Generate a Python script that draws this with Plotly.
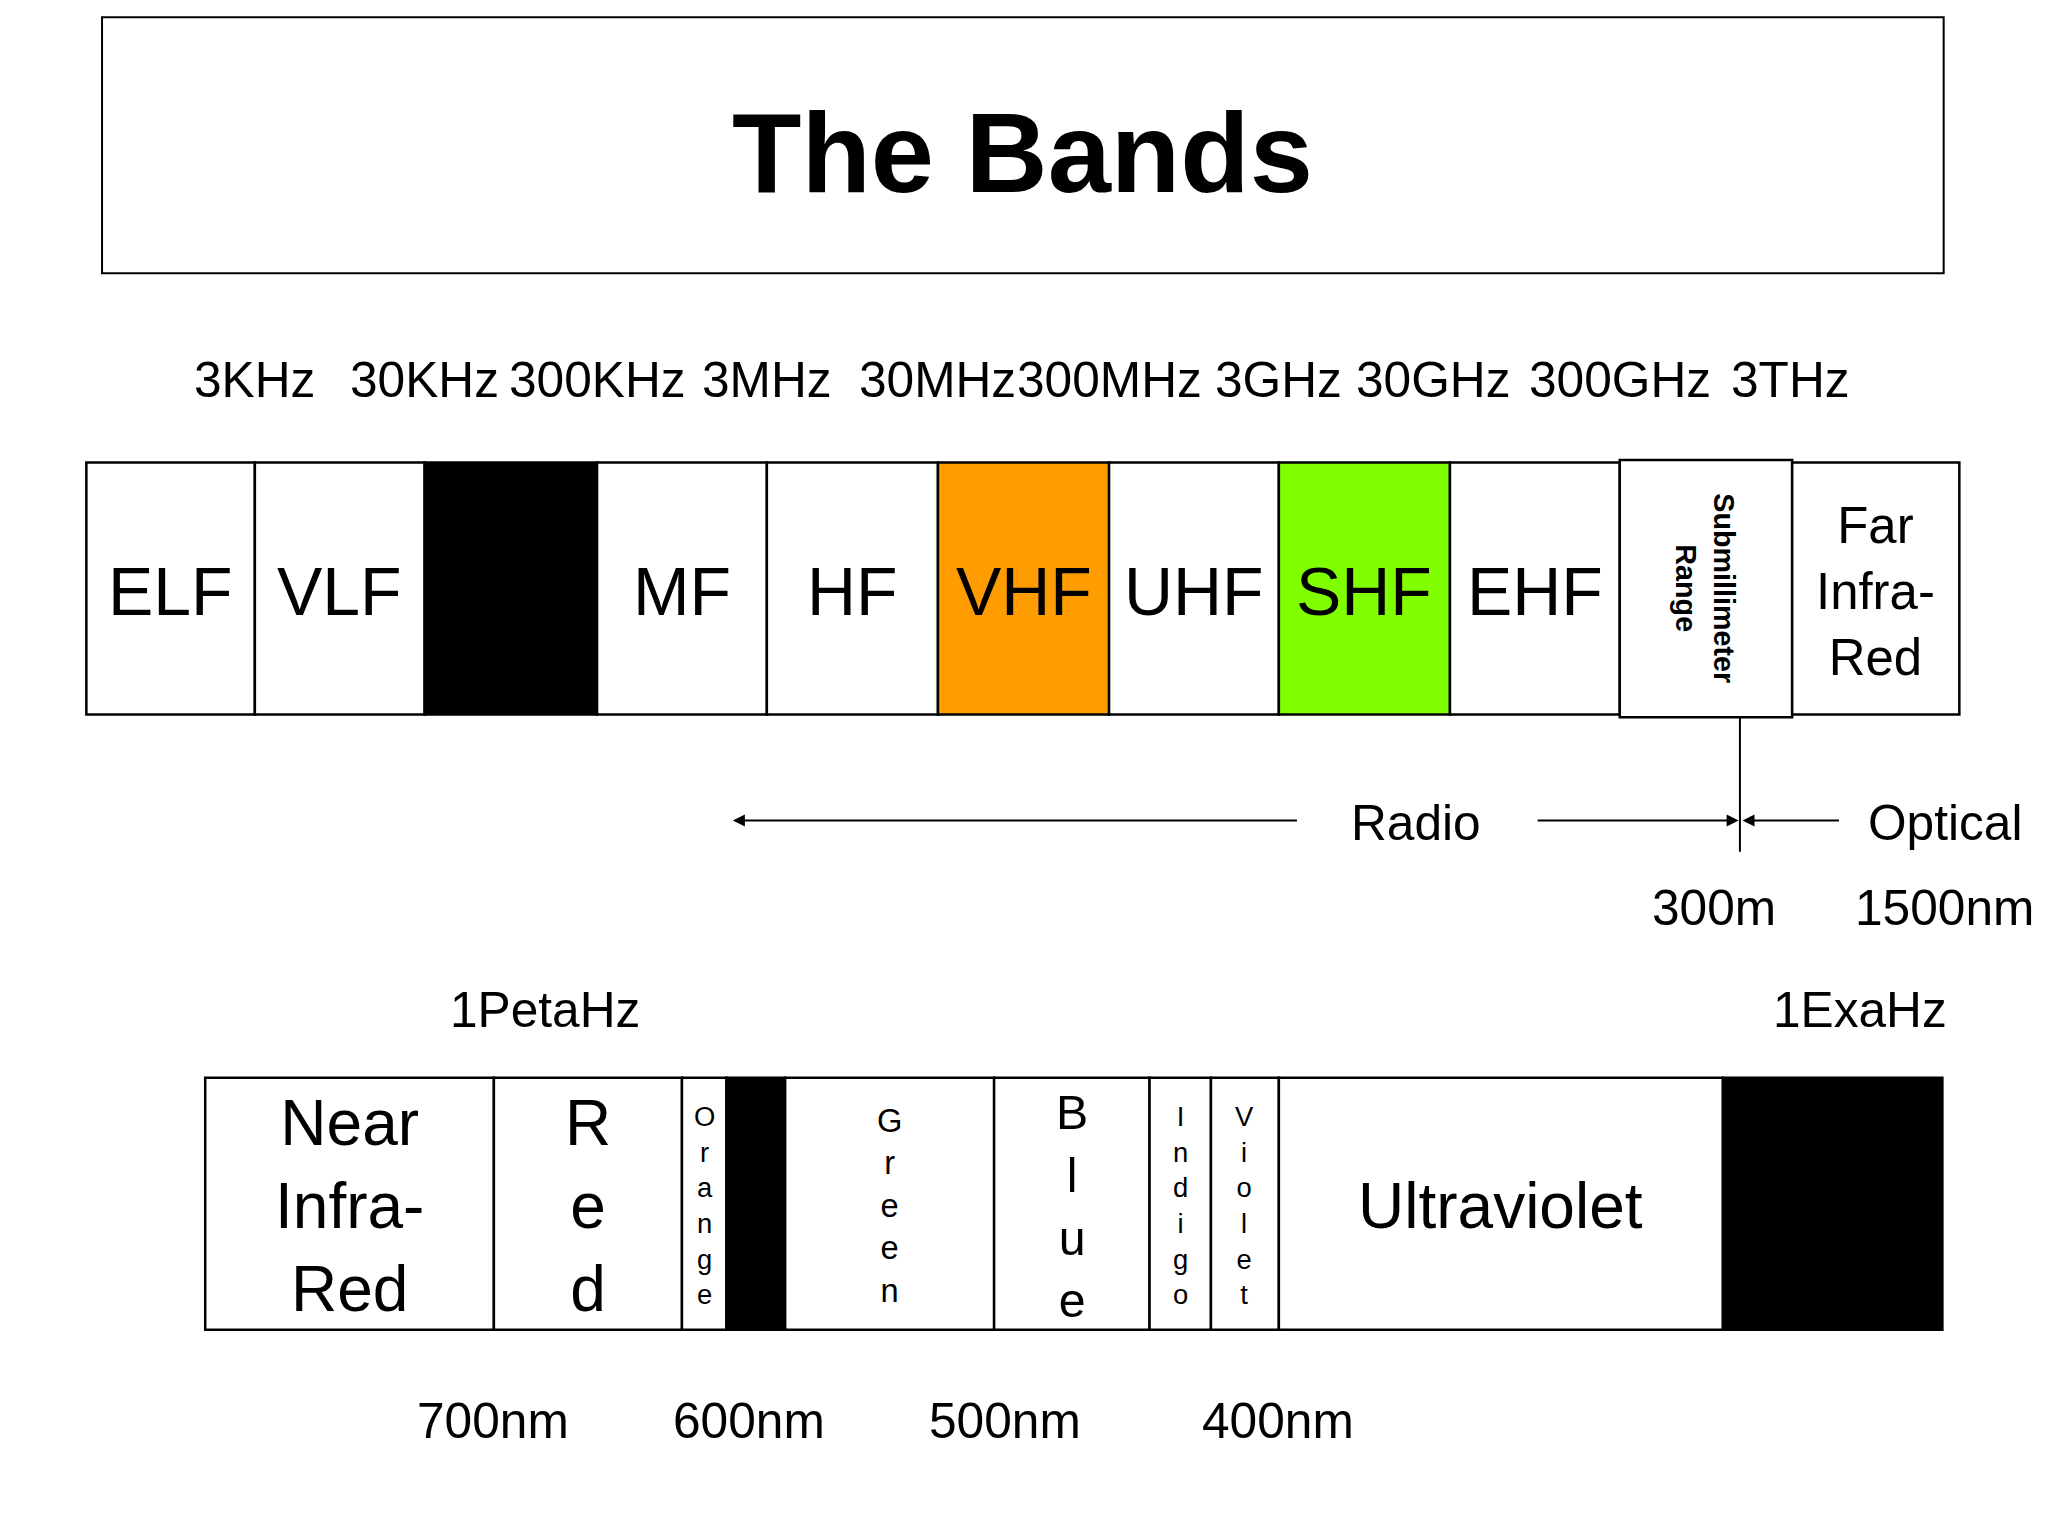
import plotly.graph_objects as go

# Diagram drawn in a 1568x1176 coordinate space, scaled to 2048x1536
W, H = 1568, 1176
S = 2048 / W
FONT = "Liberation Sans, Arial, sans-serif"

# Radio bands (top row)
radio_edges = [67, 196, 326, 458, 588, 719, 850, 980, 1111, 1241, 1373, 1501]
radio_labels = ["ELF", "VLF", "", "MF", "HF", "VHF", "UHF", "SHF", "EHF", "", "Far<br>Infra-<br>Red"]
radio_fills = ["white", "white", "black", "white", "white", "#ff9c00", "white", "#80ff00", "white", "white", "white"]
radio_sizes = [52, 52, 52, 52, 52, 52, 52, 52, 52, 22, 39]

freq_labels = ["3KHz", "30KHz", "300KHz", "3MHz", "30MHz", "300MHz", "3GHz", "30GHz", "300GHz", "3THz"]
freq_x = [196, 326, 458, 588, 719, 850, 980, 1098, 1241, 1372]

# Optical bands (bottom row)
opt_edges = [158, 379, 523, 557, 602, 762, 881, 928, 980, 1320, 1488]
opt_labels = ["Near<br>Infra-<br>Red", "R<br>e<br>d", "O<br>r<br>a<br>n<br>g<br>e", "",
              "G<br>r<br>e<br>e<br>n", "B<br>l<br>u<br>e", "I<br>n<br>d<br>i<br>g<br>o",
              "V<br>i<br>o<br>l<br>e<br>t", "Ultraviolet", ""]
opt_fills = ["white", "white", "white", "black", "white", "white", "white", "white", "white", "black"]
opt_sizes = [49, 49, 21, 21, 25, 37, 21, 21, 49, 21]

wave_labels = ["700nm", "600nm", "500nm", "400nm"]
wave_x = [378, 574, 770, 979]

fig = go.Figure()
shapes = []
ann = []


def txt(x, y, t, size, bold=False, angle=0):
    ann.append(dict(x=x, y=y, text=f"<b>{t}</b>" if bold else t, showarrow=False,
                    font=dict(size=size * S, color="black", family=FONT),
                    textangle=angle, xanchor="center", yanchor="middle"))


# title box
shapes.append(dict(type="rect", x0=79, y0=13, x1=1489, y1=209, line=dict(color="black", width=2)))
txt(784, 117, "The Bands", 87, bold=True)

# radio row
for i, lab in enumerate(radio_labels):
    x0, x1 = radio_edges[i], radio_edges[i + 1]
    y0, y1 = (352, 549) if i == 9 else (354, 547)
    shapes.append(dict(type="rect", x0=x0, y0=y0, x1=x1, y1=y1, fillcolor=radio_fills[i],
                       line=dict(color="black", width=2.5), layer="below"))
    if lab:
        txt((x0 + x1) / 2, 453, lab, radio_sizes[i])
txt(1306, 450, "Submillimeter<br>Range", 22, bold=True, angle=90)

for lab, x in zip(freq_labels, freq_x):
    txt(x, 291, lab, 38)

# radio / optical arrows
shapes.append(dict(type="line", x0=1333, y0=549, x1=1333, y1=652, line=dict(color="black", width=2)))
for x0, x1 in [(995, 562), (1177, 1332), (1410, 1335)]:
    ann.append(dict(x=x1, y=628, ax=x0, ay=628, xref="x", yref="y", axref="x", ayref="y",
                    showarrow=True, arrowhead=2, arrowsize=1.2, arrowwidth=2, arrowcolor="black", text=""))
txt(1085, 630, "Radio", 38)
txt(1490, 630, "Optical", 38)
txt(1313, 695, "300m", 38)
txt(1490, 695, "1500nm", 38)
txt(418, 773, "1PetaHz", 38)
txt(1425, 773, "1ExaHz", 38)

# optical row
for i, lab in enumerate(opt_labels):
    x0, x1 = opt_edges[i], opt_edges[i + 1]
    shapes.append(dict(type="rect", x0=x0, y0=825, x1=x1, y1=1018, fillcolor=opt_fills[i],
                       line=dict(color="black", width=2.5), layer="below"))
    if lab:
        txt((x0 + x1) / 2, 923, lab, opt_sizes[i])

for lab, x in zip(wave_labels, wave_x):
    txt(x, 1088, lab, 38)

fig.update_layout(
    width=2048, height=1536,
    margin=dict(l=0, r=0, t=0, b=0),
    plot_bgcolor="white", paper_bgcolor="white",
    shapes=shapes, annotations=ann,
    xaxis=dict(range=[7, W + 7], visible=False, fixedrange=True),
    yaxis=dict(range=[H + 6, 6], visible=False, fixedrange=True),
    showlegend=False,
)

fig.write_html("out.html")
